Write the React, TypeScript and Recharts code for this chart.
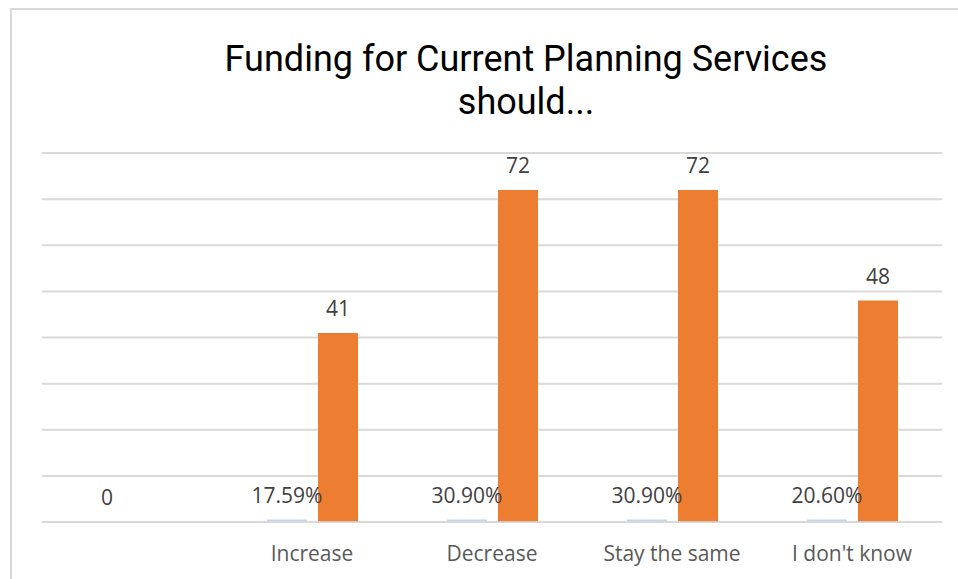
import React from 'react';
import { BarChart, Bar, XAxis, YAxis, CartesianGrid, LabelList } from 'recharts';

// Survey answers (first category is blank in the source sheet)
const categories = ['', 'Increase', 'Decrease', 'Stay the same', "I don't know"];
const shareValues = [0, 0.1759, 0.309, 0.309, 0.206];
const countValues: (number | null)[] = [null, 41, 72, 72, 48];
const yTicks = [0, 10, 20, 30, 40, 50, 60, 70, 80];

const data = categories.map((name, i) => ({
  name,
  share: shareValues[i],
  count: countValues[i],
}));

const labelFont = "'Open Sans', 'Noto Sans', sans-serif";

const fmtShare = (v: any) => (v === 0 ? '0' : `${(v * 100).toFixed(2)}%`);

export default function App() {
  return (
    <div style={{ position: 'absolute', left: 0, top: 0, width: 958, height: 579, background: '#fff', overflow: 'hidden' }}>
      {/* chart frame, cropped on right/bottom like the screenshot */}
      <div
        style={{
          position: 'absolute',
          left: 10,
          top: 8,
          width: 1000,
          height: 600,
          borderLeft: '2px solid #d9d9d9',
          borderTop: '2px solid #d9d9d9',
        }}
      />
      <div
        style={{
          position: 'absolute',
          left: 176,
          top: 38,
          width: 700,
          textAlign: 'center',
          whiteSpace: 'nowrap',
          fontFamily: "'Roboto', sans-serif",
          fontSize: 36,
          lineHeight: '43px',
          color: '#000',
        }}
      >
        Funding for Current Planning Services
        <br />
        should...
      </div>
      <div style={{ position: 'absolute', left: 0, top: 0 }}>
        <BarChart
          width={958}
          height={579}
          data={data}
          margin={{ top: 153, right: 16, bottom: 27, left: 42 }}
          barGap={11}
          barCategoryGap={44}
        >
          <CartesianGrid vertical={false} stroke="#d9d9d9" strokeWidth={2} />
          <YAxis hide domain={[0, 80]} ticks={yTicks} />
          <XAxis
            dataKey="name"
            height={30}
            axisLine={{ stroke: '#d9d9d9', strokeWidth: 1.5 }}
            tickLine={false}
            tickSize={0}
            tickMargin={24}
            tick={{ fill: '#595959', fontSize: 21, fontFamily: labelFont }}
            interval={0}
          />
          <Bar
            dataKey="share"
            fill="#c5d5ea"
            barSize={40}
            minPointSize={(v: any) => (v > 0 ? 2.5 : 0.01)}
            isAnimationActive={false}
          >
            <LabelList
              dataKey="share"
              position="top"
              offset={17}
              formatter={fmtShare}
              style={{ fill: '#404040', fontSize: 21, fontFamily: labelFont }}
            />
          </Bar>
          <Bar dataKey="count" fill="#ed7d31" barSize={40} isAnimationActive={false}>
            <LabelList
              dataKey="count"
              position="top"
              offset={17}
              style={{ fill: '#404040', fontSize: 21, fontFamily: labelFont }}
            />
          </Bar>
        </BarChart>
      </div>
    </div>
  );
}
